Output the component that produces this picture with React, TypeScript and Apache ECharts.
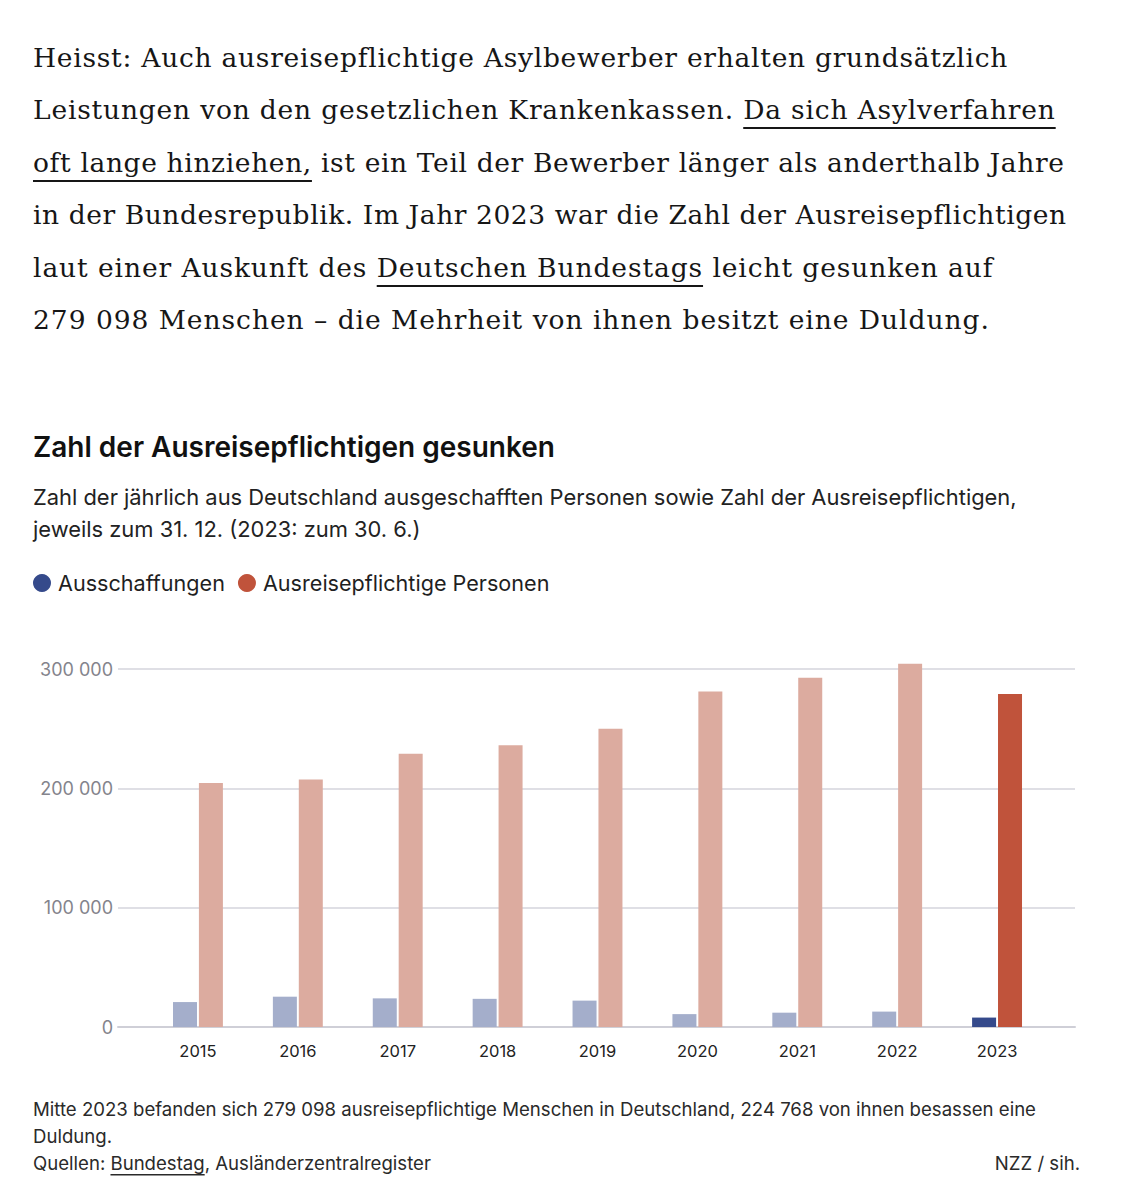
import React, { useEffect, useRef } from "react";
import * as echarts from "echarts";

// ---------- data ----------
const years = ["2015", "2016", "2017", "2018", "2019", "2020", "2021", "2022", "2023"];
const ausschaffungen = [20900, 25400, 24000, 23600, 22100, 10800, 12000, 12900, 7900];
const ausreisepflichtige = [204400, 207500, 228900, 236000, 249900, 281100, 292700, 304300, 279098];
const yTicks = [0, 100000, 200000, 300000];

const seriesNames = ["Ausschaffungen", "Ausreisepflichtige Personen"];
const darkColors = ["#354a8b", "#c0533b"];
const lightColors = ["#a4aecb", "#dcab9f"];

const chartTitle = "Zahl der Ausreisepflichtigen gesunken";
const chartSubtitle = [
  "Zahl der jährlich aus Deutschland ausgeschafften Personen sowie Zahl der Ausreisepflichtigen,",
  "jeweils zum 31. 12. (2023: zum 30. 6.)",
];
const noteLines = [
  "Mitte 2023 befanden sich 279 098 ausreisepflichtige Menschen in Deutschland, 224 768 von ihnen besassen eine",
  "Duldung.",
];
const sourcePrefix = "Quellen: ";
const sourceLink = "Bundestag";
const sourceRest = ", Ausländerzentralregister";
const credit = "NZZ / sih.";

// paragraph: segments [text, underlined]
const paragraph: [string, boolean][][] = [
  [["Heisst: Auch ausreisepflichtige Asylbewerber erhalten grundsätzlich", false]],
  [["Leistungen von den gesetzlichen Krankenkassen. ", false], ["Da sich Asylverfahren", true]],
  [["oft lange hinziehen,", true], [" ist ein Teil der Bewerber länger als anderthalb Jahre", false]],
  [["in der Bundesrepublik. Im Jahr 2023 war die Zahl der Ausreisepflichtigen", false]],
  [["laut einer Auskunft des ", false], ["Deutschen Bundestags", true], [" leicht gesunken auf", false]],
  [["279 098 Menschen – die Mehrheit von ihnen besitzt eine Duldung.", false]],
];
const paragraphWidths = [975, 1023, 1032, 1033, 961, 957];

const SANS = 'Inter, "Noto Sans", sans-serif';
const SERIF = '"DejaVu Serif", "Liberation Serif", serif';

function fmt(v: number) {
  return String(v).replace(/\B(?=(\d{3})+(?!\d))/g, " ");
}

function measure(text: string, font: string) {
  const c = document.createElement("canvas").getContext("2d")!;
  c.font = font;
  return c.measureText(text).width;
}

export default function App() {
  const chartRef = useRef<HTMLDivElement>(null);
  const lineRefs = useRef<(HTMLDivElement | null)[]>([]);

  useEffect(() => {
    const fit = () => {
      lineRefs.current.forEach((el, i) => {
        if (!el) return;
        el.style.letterSpacing = "0px";
        const w = el.scrollWidth;
        const n = (el.textContent || "").length;
        el.style.letterSpacing = (paragraphWidths[i] - w) / n + "px";
      });
    };
    fit();
    (document as any).fonts?.ready?.then(fit);
  }, []);

  useEffect(() => {
    const el = chartRef.current!;
    const chart = echarts.init(el, null, { renderer: "svg" });
    const last = years.length - 1;
    const mk = (vals: number[], si: number) =>
      vals.map((v, i) => ({
        value: v,
        itemStyle: { color: i === last ? darkColors[si] : lightColors[si] },
      }));

    const noteFont = `18.6px ${SANS}`;
    const prefixW = measure(sourcePrefix, noteFont);
    const linkW = measure(sourceLink, noteFont);

    chart.setOption({
      animation: false,
      backgroundColor: "transparent",
      legend: {
        left: 33,
        top: 572,
        padding: 0,
        icon: "circle",
        itemWidth: 18,
        itemHeight: 18,
        itemGap: 13,
        selectedMode: false,
        textStyle: { fontFamily: SANS, fontSize: 21.6, color: "#1f1f1f", padding: [0, 0, 0, 2] },
        data: seriesNames,
      },
      grid: [
        { left: 118, right: 63, top: 669, bottom: 173 },
        { left: 148, right: 91, top: 669, bottom: 173 },
      ],
      xAxis: [
        {
          gridIndex: 0,
          type: "value",
          min: 0,
          max: 1,
          axisLabel: { show: false },
          axisTick: { show: false },
          splitLine: { show: false },
          axisLine: { show: true, lineStyle: { color: "#cfcfd7", width: 2 } },
        },
        {
          gridIndex: 1,
          type: "category",
          data: years,
          axisLine: { show: false },
          axisTick: { show: false },
          axisLabel: { fontFamily: SANS, fontSize: 16.5, color: "#222", margin: 15 },
        },
      ],
      yAxis: [
        {
          gridIndex: 0,
          type: "value",
          min: yTicks[0],
          max: yTicks[yTicks.length - 1],
          interval: yTicks[1] - yTicks[0],
          axisLine: { show: false },
          axisTick: { show: false },
          axisLabel: {
            fontFamily: SANS,
            fontSize: 18,
            color: "#84848c",
            margin: 5,
            formatter: (v: number) => fmt(v),
          },
          splitLine: { lineStyle: { color: "#d5d5dd", width: 1.5 } },
        },
        {
          gridIndex: 1,
          type: "value",
          min: yTicks[0],
          max: yTicks[yTicks.length - 1],
          show: false,
          splitLine: { show: false },
        },
      ],
      series: [
        {
          name: seriesNames[0],
          type: "bar",
          xAxisIndex: 1,
          yAxisIndex: 1,
          barWidth: 24,
          barGap: "8%",
          clip: false,
          itemStyle: { color: darkColors[0] },
          data: mk(ausschaffungen, 0),
        },
        {
          name: seriesNames[1],
          type: "bar",
          xAxisIndex: 1,
          yAxisIndex: 1,
          barWidth: 24,
          barGap: "8%",
          clip: false,
          itemStyle: { color: darkColors[1] },
          data: mk(ausreisepflichtige, 1),
        },
      ],
      graphic: [
        {
          type: "text",
          x: 33,
          y: 447,
          style: {
            text: chartTitle,
            font: `600 28px ${SANS}`,
            fill: "#111",
            verticalAlign: "middle",
          },
        },
        {
          type: "text",
          x: 33,
          y: 497,
          style: { text: chartSubtitle[0], font: `21.9px ${SANS}`, fill: "#222", verticalAlign: "middle" },
        },
        {
          type: "text",
          x: 33,
          y: 529,
          style: { text: chartSubtitle[1], font: `21.9px ${SANS}`, fill: "#222", verticalAlign: "middle" },
        },
        {
          type: "text",
          x: 33,
          y: 1109,
          style: { text: noteLines[0], font: noteFont, fill: "#2a2a2a", verticalAlign: "middle" },
        },
        {
          type: "text",
          x: 33,
          y: 1136,
          style: { text: noteLines[1], font: noteFont, fill: "#2a2a2a", verticalAlign: "middle" },
        },
        {
          type: "text",
          x: 33,
          y: 1163,
          style: {
            text: sourcePrefix + sourceLink + sourceRest,
            font: noteFont,
            fill: "#2a2a2a",
            verticalAlign: "middle",
          },
        },
        {
          type: "rect",
          shape: { x: 33 + prefixW, y: 1174, width: linkW, height: 1.5 },
          style: { fill: "#2a2a2a" },
        },
        {
          type: "text",
          x: 1080,
          y: 1163,
          style: { text: credit, font: noteFont, fill: "#2a2a2a", align: "right", verticalAlign: "middle" },
        },
      ],
    });
    return () => chart.dispose();
  }, []);

  return (
    <div
      style={{
        position: "absolute",
        left: 0,
        top: 0,
        width: 1138,
        height: 1200,
        background: "#fff",
        overflow: "hidden",
      }}
    >
      <div ref={chartRef} style={{ position: "absolute", left: 0, top: 0, width: 1138, height: 1200 }} />
      <div
        style={{
          position: "absolute",
          left: 33,
          top: 32,
          fontFamily: SERIF,
          fontSize: 26.5,
          color: "#161616",
        }}
      >
        {paragraph.map((segs, i) => (
          <div
            key={i}
            ref={(e) => {
              lineRefs.current[i] = e;
            }}
            style={{
              height: 52.4,
              lineHeight: "52.4px",
              whiteSpace: "nowrap",
              display: "inline-block",
              width: "max-content",
              clear: "both",
            }}
          >
            {segs.map(([t, u], j) => (
              <span
                key={j}
                style={
                  u
                    ? {
                        textDecoration: "underline",
                        textDecorationThickness: "1.5px",
                        textUnderlineOffset: "8px",
                      }
                    : undefined
                }
              >
                {t}
              </span>
            ))}
          </div>
        ))}
      </div>
    </div>
  );
}
